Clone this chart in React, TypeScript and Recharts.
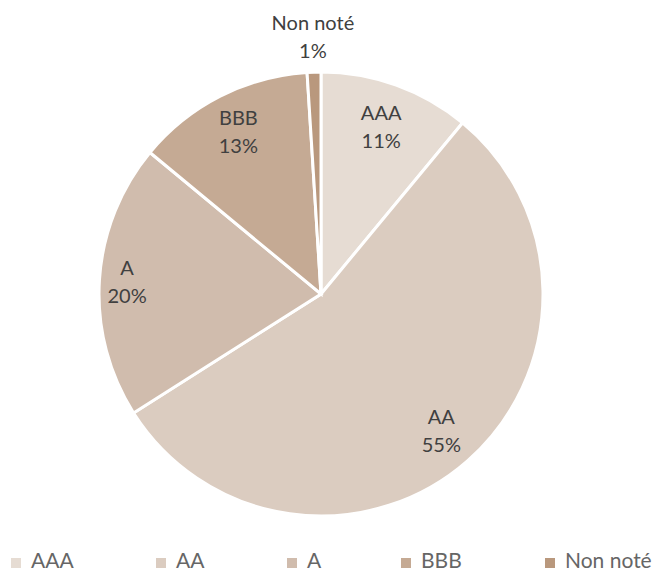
import { PieChart, Pie, Cell, Legend } from "recharts";

// Rating breakdown (share of portfolio, %)
const ratings = ["AAA", "AA", "A", "BBB", "Non noté"];
const shares = [11, 55, 20, 13, 1];
const COLORS = ["#e6dcd3", "#dbccc0", "#d0bcad", "#c5aa94", "#b9987d"];

const data = ratings.map((name, i) => ({ name, value: shares[i] }));

// label distance from centre, as a share of the outer radius
const LABEL_R = [0.8, 0.82, 0.875, 0.82, 1.16];
const FONT = "Lato, 'Open Sans', sans-serif";
const RAD = Math.PI / 180;

const renderLabel = (props: any) => {
    const { cx, cy, midAngle, outerRadius, index, name, value } = props;
    const r = outerRadius * LABEL_R[index];
    const x = cx + r * Math.cos(-midAngle * RAD);
    const y = cy + r * Math.sin(-midAngle * RAD);
    return (
        <text x={x} y={y - 7} textAnchor="middle" fill="#404040" fontSize={20} fontFamily={FONT}>
            <tspan x={x} y={y - 7} fill="#404040">{name}</tspan>
            <tspan x={x} y={y + 21} fill="#404040">{value}%</tspan>
        </text>
    );
};

const LEGEND_X = [11, 156, 287, 401, 545];

const CustomLegend = () => (
    <svg width={664} height={36} style={{ display: "block", overflow: "visible" }}>
        {ratings.map((r, i) => (
            <g key={r}>
                <rect x={LEGEND_X[i]} y={20} width={10} height={10} fill={COLORS[i]} />
                <text x={LEGEND_X[i] + 20} y={30} fontSize={21} fill="#666666" fontFamily={FONT}>
                    {r}
                </text>
            </g>
        ))}
    </svg>
);

export default function App() {
    return (
        <div style={{ position: "absolute", left: 0, top: 0, width: 664, height: 574, background: "#fff" }}>
            <PieChart width={664} height={574} margin={{ top: 0, right: 0, bottom: 0, left: 0 }}>
                <Pie
                    data={data}
                    dataKey="value"
                    nameKey="name"
                    cx={321}
                    cy={294}
                    outerRadius={222}
                    startAngle={90}
                    endAngle={-270}
                    stroke="#ffffff"
                    strokeWidth={3}
                    label={renderLabel}
                    labelLine={false}
                    isAnimationActive={false}
                >
                    {data.map((d, i) => (
                        <Cell key={d.name} fill={COLORS[i]} />
                    ))}
                </Pie>
                <Legend
                    verticalAlign="bottom"
                    content={<CustomLegend />}
                    wrapperStyle={{ left: 0, bottom: 0, width: 664, height: 36 }}
                />
            </PieChart>
        </div>
    );
}
